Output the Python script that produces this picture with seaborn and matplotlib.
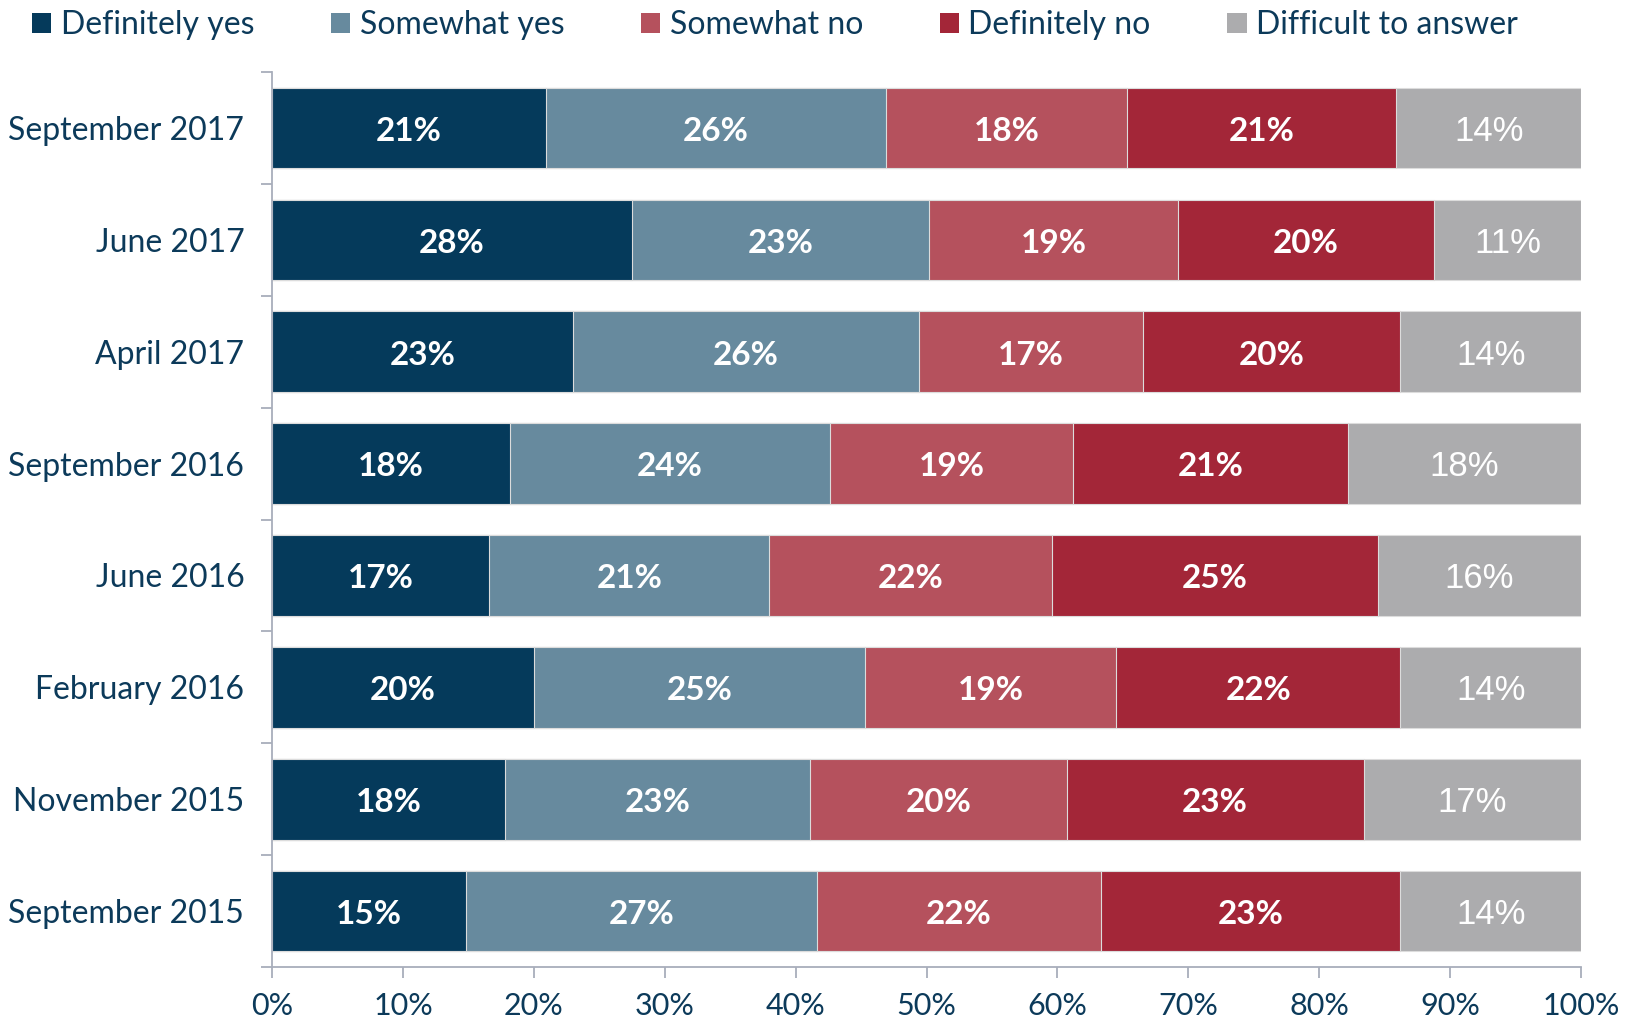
import numpy as np
import pandas as pd
import matplotlib
matplotlib.use("Agg")
import matplotlib.pyplot as plt
import seaborn as sns
from matplotlib.patches import Patch
from matplotlib.ticker import MultipleLocator, FixedLocator, PercentFormatter

periods = ["September 2017", "June 2017", "April 2017", "September 2016",
           "June 2016", "February 2016", "November 2015", "September 2015"]
categories = ["Definitely yes", "Somewhat yes", "Somewhat no", "Definitely no", "Difficult to answer"]
definitely_yes = [20.9, 27.5, 23.0, 18.2, 16.6, 20.0, 17.8, 14.8]
somewhat_yes   = [26.0, 22.7, 26.4, 24.4, 21.4, 25.3, 23.3, 26.8]
somewhat_no    = [18.4, 19.0, 17.1, 18.6, 21.6, 19.2, 19.6, 21.7]
definitely_no  = [20.6, 19.6, 19.7, 21.0, 24.9, 21.7, 22.7, 22.9]
difficult      = [14.1, 11.2, 13.8, 17.8, 15.5, 13.8, 16.6, 13.8]
colors = ["#053a5b", "#678a9e", "#b5515d", "#a32638", "#acacae"]
text_color = "#0c3a5a"

series = [definitely_yes, somewhat_yes, somewhat_no, definitely_no, difficult]
vals = np.array(series)
cum = np.cumsum(vals, axis=0)

sns.set_theme(style="white")
plt.rcParams["font.family"] = ["Lato", "DejaVu Sans"]

fig = plt.figure(figsize=(16.35, 10.23), dpi=100)
ax = fig.add_axes([0.1664, 0.0547, 0.967 - 0.1664, 0.9296 - 0.0547])

for i in reversed(range(len(categories))):
    df = pd.DataFrame({"period": periods, "value": cum[i]})
    sns.barplot(data=df, x="value", y="period", orient="h", color=colors[i],
                width=0.72, saturation=1, ax=ax, edgecolor="#dcdcdc", linewidth=0.8)

for i in range(len(categories)):
    for j in range(len(periods)):
        center = cum[i, j] - vals[i, j] / 2
        gray = (i == len(categories) - 1)
        ax.text(center, j + 0.03, f"{round(vals[i, j])}%", ha="center", va="center",
                color="white", fontsize=25 if gray else 24,
                fontweight="normal" if gray else "bold",
                family=["Liberation Sans"] if gray else ["Lato", "DejaVu Sans"])

ax.set_xlim(0, 100)
ax.set_ylim(7.5, -0.5)
ax.set_xlabel("")
ax.set_ylabel("")
ax.xaxis.set_major_locator(MultipleLocator(10))
ax.xaxis.set_major_formatter(PercentFormatter(decimals=0))
ax.yaxis.set_minor_locator(FixedLocator(np.arange(-0.5, 8, 1)))
for s in ["top", "right"]:
    ax.spines[s].set_visible(False)
axis_col = "#a8aebb"
ax.spines["left"].set_color(axis_col)
ax.spines["bottom"].set_color(axis_col)
ax.spines["left"].set_linewidth(1.3)
ax.spines["bottom"].set_linewidth(1.3)
ax.tick_params(axis="x", which="major", direction="out", length=8, width=1.3,
               color=axis_col, labelcolor=text_color, labelsize=22, pad=10, bottom=True)
ax.tick_params(axis="y", which="major", length=0, labelcolor=text_color, labelsize=23, pad=20)
ax.tick_params(axis="y", which="minor", direction="out", length=8, width=1.3,
               color=axis_col, left=True)
ax.grid(False)

handles = [Patch(facecolor=c, edgecolor="none") for c in colors]
fig.legend(handles, categories, loc="upper center", bbox_to_anchor=(0.474, 1.018),
           ncol=5, frameon=False, fontsize=23, handlelength=0.6, handleheight=0.6,
           handletextpad=0.3, columnspacing=2.4, labelcolor=text_color)

fig.savefig("out.png", dpi=100)
